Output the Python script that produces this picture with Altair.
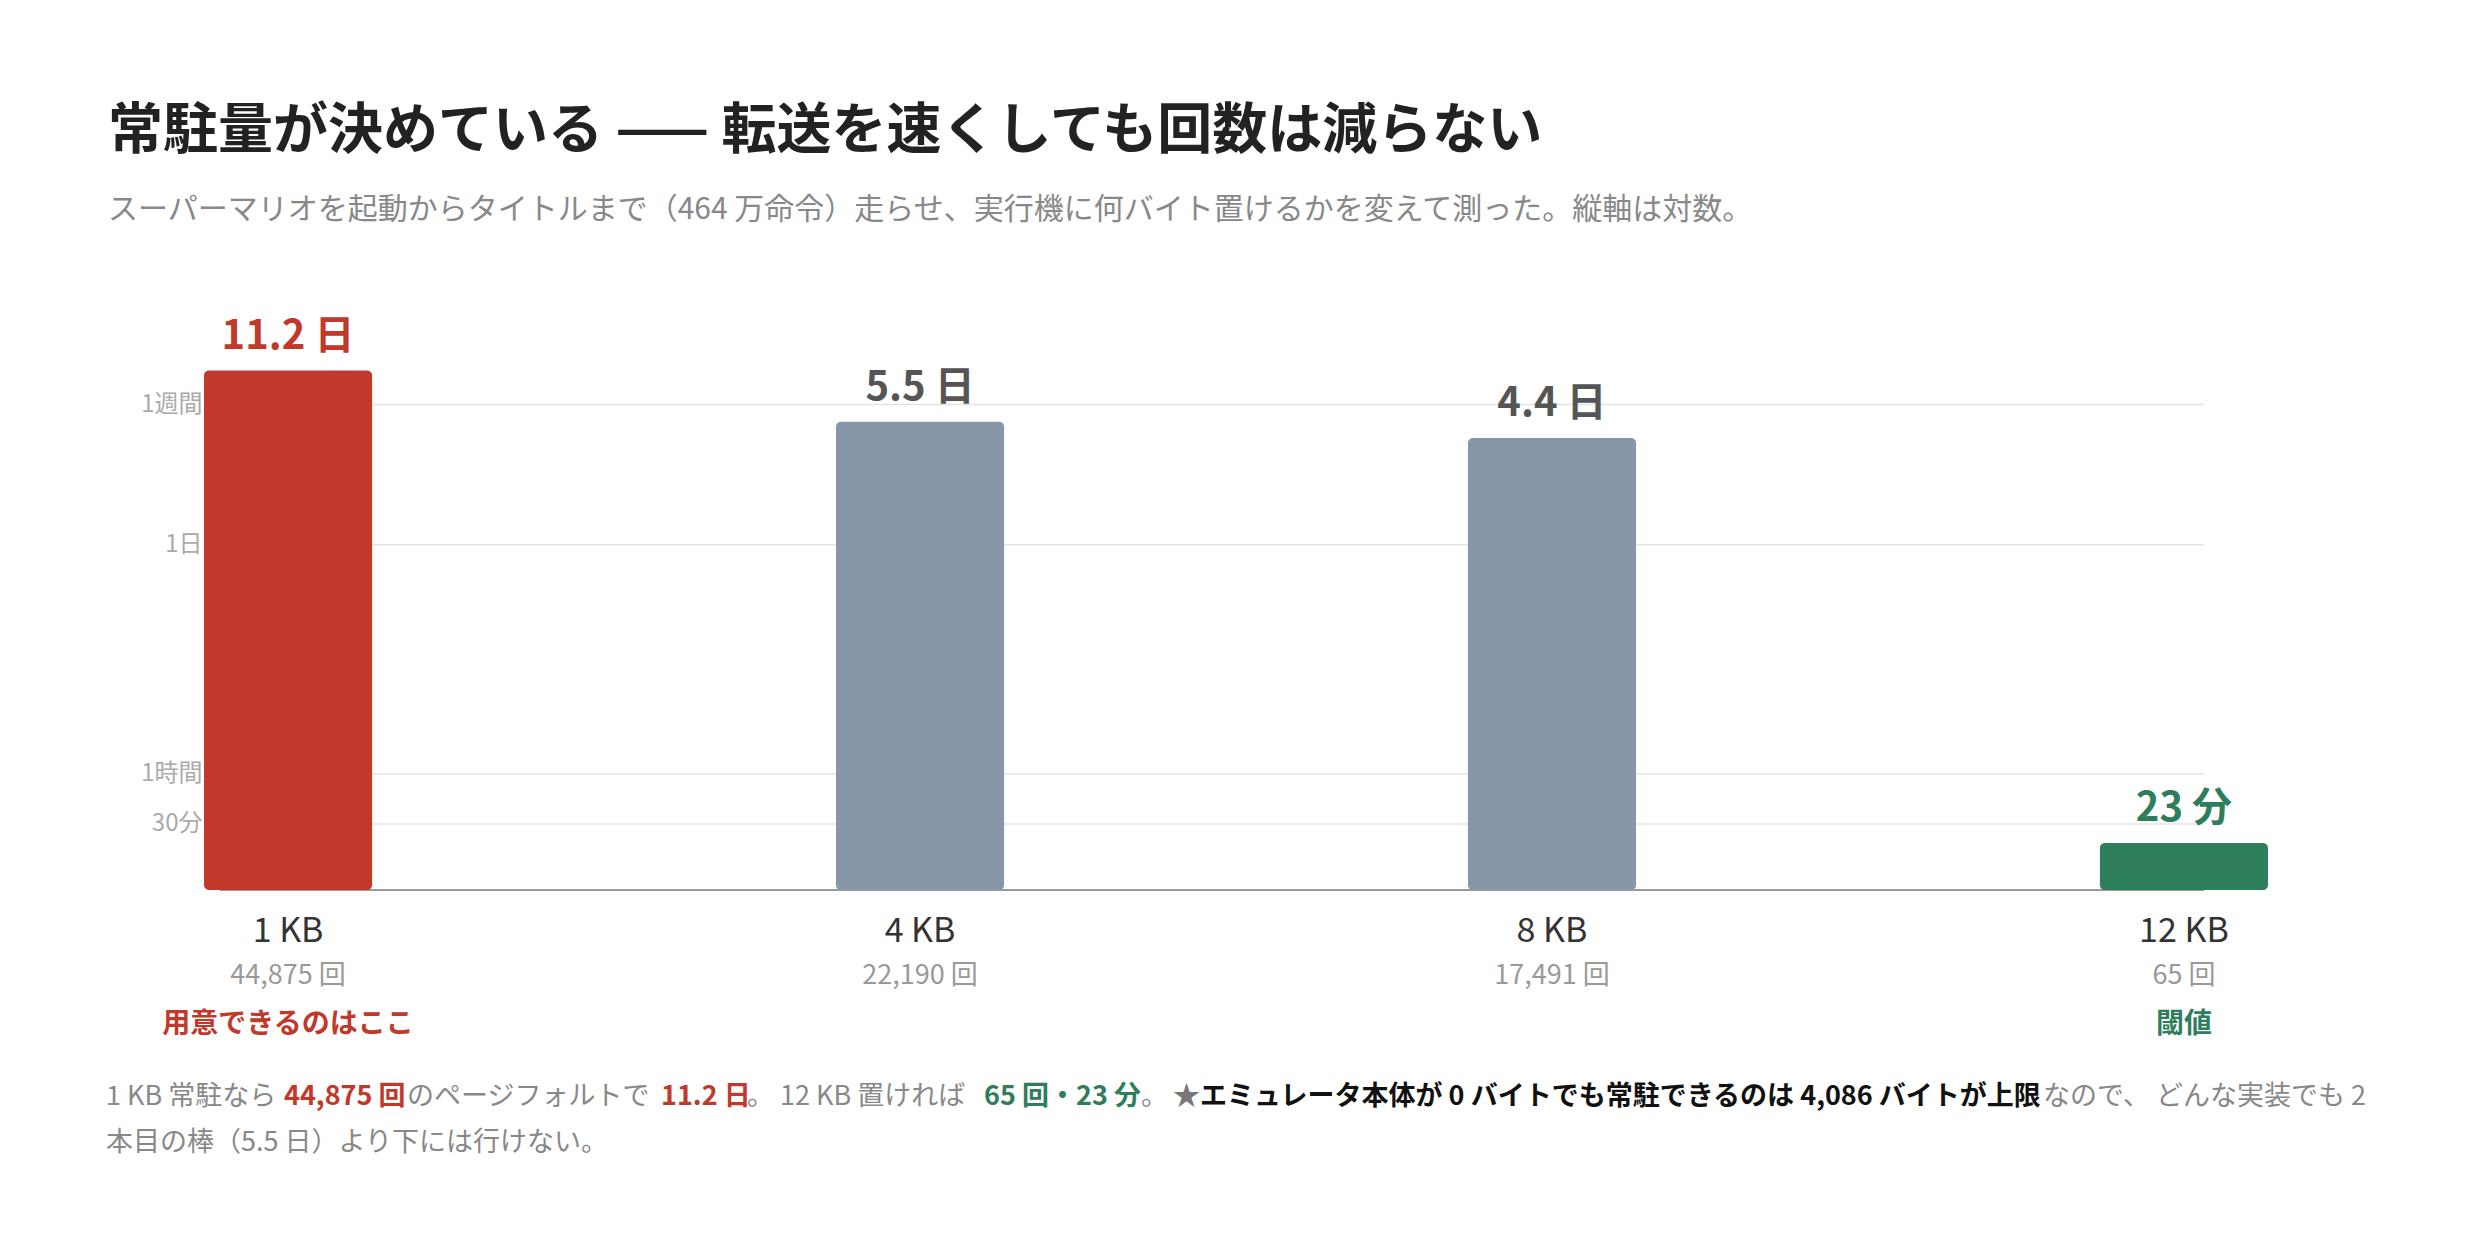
import altair as alt
import pandas as pd

FONT = "Noto Sans CJK JP"

# data
sizes = ["1 KB", "4 KB", "8 KB", "12 KB"]
minutes = [16128, 7920, 6336, 23]          # 11.2 日, 5.5 日, 4.4 日, 23 分
value_labels = ["11.2 日", "5.5 日", "4.4 日", "23 分"]
fault_counts = ["44,875 回", "22,190 回", "17,491 回", "65 回"]
notes = ["用意できるのはここ", "", "", "閾値"]

tick_values = [30, 60, 1440, 10080]
tick_labels = ["30分", "1時間", "1日", "1週間"]

title_text = "常駐量が決めている —— 転送を速くしても回数は減らない"
subtitle_text = "スーパーマリオを起動からタイトルまで（464 万命令）走らせ、実行機に何バイト置けるかを変えて測った。縦軸は対数。"

foot1_texts = [
    "1 KB 常駐なら ",
    "44,875 回",
    "のページフォルトで ",
    "11.2 日",
    "。 12 KB 置ければ ",
    "65 回・23 分",
    "。",
    "★",
    "エミュレータ本体が 0 バイトでも常駐できるのは 4,086 バイトが上限",
    "なので、 どんな実装でも 2",
]
foot2_text = "本目の棒（5.5 日）より下には行けない。"

# styles
RED, GREEN, SLATE = "#c0392b", "#2e7d5b", "#8796a8"
bar_colors = [RED, SLATE, SLATE, GREEN]
label_colors = [RED, "#555555", "#555555", GREEN]
note_colors = [RED, RED, RED, GREEN]
foot1_x = [106, 284, 407, 661, 747, 984, 1141, 1173, 1200, 2043]
foot1_style = [
    ("#888888", "normal"), (RED, "bold"), ("#888888", "normal"), (RED, "bold"),
    ("#888888", "normal"), (GREEN, "bold"), ("#888888", "normal"),
    ("#777777", "normal"), ("#111111", "bold"), ("#888888", "normal"),
]

# layout: plot area in page pixels
LEFT, TOP = 220, 355
W, H = 1984, 535

df = pd.DataFrame({
    "size": sizes,
    "minutes": minutes,
    "value_label": value_labels,
    "count": fault_counts,
    "note": notes,
    "bar_color": bar_colors,
    "label_color": label_colors,
    "note_color": note_colors,
})
ticks_df = pd.DataFrame({"minutes": tick_values})


def text_at(txt, x, y, size, color, weight="normal"):
    # x, y are page coordinates of the text baseline start
    return alt.Chart(pd.DataFrame({"t": [txt]})).mark_text(
        align="left", baseline="alphabetic", font=FONT,
        fontSize=size, fontWeight=weight, color=color
    ).encode(text="t:N", x=alt.value(x - LEFT), y=alt.value(y - TOP))


label_expr = " : ".join(
    f"datum.value == {v} ? '{t}'" for v, t in zip(tick_values[:-1], tick_labels[:-1])
) + f" : '{tick_labels[-1]}'"

y_scale = alt.Scale(type="log", domain=[12, 20000], nice=False)
y_enc = alt.Y(
    "minutes:Q", scale=y_scale, stack=None,
    axis=alt.Axis(
        values=tick_values, labelExpr=label_expr, title=None, domain=False,
        ticks=False, grid=False, labelFont=FONT, labelFontSize=24,
        labelColor="#aaaaaa", labelPadding=18,
    ),
)

# horizontal guide lines at the tick values, spanning the plot width
grid = alt.Chart(ticks_df).mark_rule(color="#e4e4e4", strokeWidth=1.5).encode(
    y=y_enc, x=alt.value(0), x2=alt.value(W)
)

base = alt.Chart(df).encode(
    x=alt.X(
        "size:N", sort=sizes, axis=None,
        scale=alt.Scale(range=[-16, 2048], paddingInner=0.734, paddingOuter=0),
    )
)

bars = base.mark_bar(cornerRadius=5).encode(
    y=y_enc, y2=alt.value(H), color=alt.Color("bar_color:N", scale=None)
)

value_text = base.mark_text(
    dy=-22, baseline="alphabetic", font=FONT, fontSize=40, fontWeight="bold"
).encode(y=y_enc, text="value_label:N", color=alt.Color("label_color:N", scale=None))

baseline = alt.Chart(df).mark_rule(color="#999999", strokeWidth=2).encode(
    x=alt.value(0), x2=alt.value(W), y=alt.value(H)
)

size_text = base.mark_text(
    baseline="alphabetic", font=FONT, fontSize=34, color="#333333"
).encode(text="size:N", y=alt.value(942 - TOP))

count_text = base.mark_text(
    baseline="alphabetic", font=FONT, fontSize=27, color="#999999"
).encode(text="count:N", y=alt.value(984 - TOP))

note_text = base.mark_text(
    baseline="alphabetic", font=FONT, fontSize=28, fontWeight="bold"
).encode(
    text="note:N", y=alt.value(1033 - TOP), color=alt.Color("note_color:N", scale=None)
).transform_filter("datum.note != ''")

layers = [grid, baseline, bars, value_text, size_text, count_text, note_text,
          text_at(title_text, 108, 148, 55, "#222222", "bold"),
          text_at(subtitle_text, 108, 219, 30, "#888888")]

for txt, x, (col, wt) in zip(foot1_texts, foot1_x, foot1_style):
    layers.append(text_at(txt, x, 1105, 27, col, wt))
layers.append(text_at(foot2_text, 106, 1151, 27, "#888888"))

chart = alt.layer(*layers).properties(
    width=W, height=H,
    autosize=alt.AutoSizeParams(type="none"),
    padding={"left": LEFT - 8, "top": TOP - 8, "right": 268, "bottom": 354},
    background="white",
).configure_view(stroke=None)

chart.save("out.html", embed_options={"renderer": "svg", "actions": False})
